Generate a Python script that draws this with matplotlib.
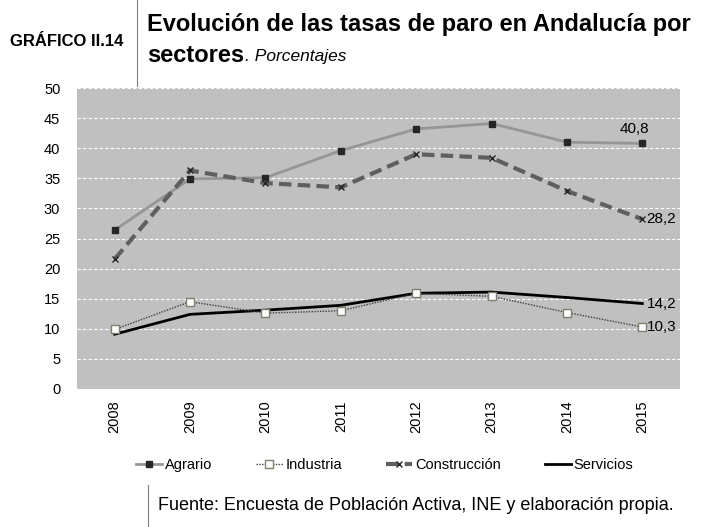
import matplotlib.pyplot as plt
from matplotlib.lines import Line2D
import numpy as np

years = ['2008', '2009', '2010', '2011', '2012', '2013', '2014', '2015']
agrario = [26.4, 34.9, 35.1, 39.6, 43.2, 44.1, 41.0, 40.8]
industria = [9.9, 14.5, 12.6, 13.0, 15.9, 15.4, 12.7, 10.3]
construccion = [21.6, 36.3, 34.2, 33.5, 39.0, 38.4, 32.9, 28.2]
servicios = [9.1, 12.4, 13.1, 13.9, 15.9, 16.1, 15.2, 14.2]

plt.rcParams['font.family'] = ['Liberation Sans', 'DejaVu Sans']

fig = plt.figure(figsize=(7.06, 5.27), dpi=100)
ax = fig.add_axes([77 / 706, 1 - 389 / 527, 603 / 706, 301 / 527])
ax.set_facecolor('#c0c0c0')

x = np.arange(len(years))
ax.plot(x, agrario, color='#969696', lw=2, marker='s', ms=5,
        mfc='#262626', mec='#262626', label='Agrario', zorder=3)
ax.plot(x, industria, color='#404040', lw=1, ls=(0, (1, 1)), marker='s', ms=6,
        mfc='white', mec='#7f7f70', label='Industria', zorder=4)
ax.plot(x, construccion, color='#5f5f5f', lw=3, ls=(0, (3, 1.5)), marker='x', ms=5,
        mec='#262626', mew=1, label='Construcción', zorder=3)
ax.plot(x, servicios, color='black', lw=2, label='Servicios', zorder=3)

ax.set_xlim(-0.5, len(years) - 0.5)
ax.set_ylim(0, 50)
ax.set_yticks(range(0, 51, 5))
ax.set_xticks(x)
ax.set_xticklabels(years, rotation=90, fontsize=10.5)
ax.tick_params(axis='y', labelsize=10.5, length=0, pad=12)
ax.tick_params(axis='x', length=0, pad=8)
ax.yaxis.grid(True, color='white', ls=(0, (3, 2)), lw=0.8)
ax.set_axisbelow(True)
for s in ax.spines.values():
    s.set_visible(False)

# data labels on the last year
last = len(years) - 1
fmt = lambda v: f'{v:.1f}'.replace('.', ',')
ax.annotate(fmt(agrario[last]), (last, agrario[last]), xytext=(-6, 5),
            textcoords='offset points', ha='center', va='bottom', fontsize=11)
for vals in [construccion, servicios, industria]:
    ax.annotate(fmt(vals[last]), (last, vals[last]), xytext=(3, 0),
                textcoords='offset points', ha='left', va='center', fontsize=11)

# header
fig.text(10 / 706, 1 - 42 / 527, 'GRÁFICO II.14', fontsize=12, fontweight='bold',
         va='center', ha='left')
fig.add_artist(Line2D([137 / 706, 137 / 706], [1, 1 - 86 / 527], color='#808080', lw=0.8))
fig.text(147 / 706, 1 - 24 / 527, 'Evolución de las tasas de paro en Andalucía por',
         fontsize=17, fontweight='bold', va='center', ha='left')
t = fig.text(147 / 706, 1 - 55 / 527, 'sectores', fontsize=17, fontweight='bold',
             va='center', ha='left')
fig.canvas.draw()
bb = t.get_window_extent(fig.canvas.get_renderer())
fig.text(bb.x1 / 706 + 1 / 706, 1 - 57 / 527, '. Porcentajes', fontsize=12.5, style='italic',
         va='center', ha='left')

leg = fig.legend(loc='center', bbox_to_anchor=(0.545, 1 - 465 / 527), ncol=4,
                 frameon=False, fontsize=10.5, handlelength=1.8, columnspacing=3,
                 handletextpad=0.2)

# footer
fig.add_artist(Line2D([148 / 706, 148 / 706], [1 - 485 / 527, 0], color='#808080', lw=0.8))
fig.text(158 / 706, 1 - 506 / 527, 'Fuente: Encuesta de Población Activa, INE y elaboración propia.',
         fontsize=13, va='center', ha='left')

fig.savefig('out.png', dpi=100)
